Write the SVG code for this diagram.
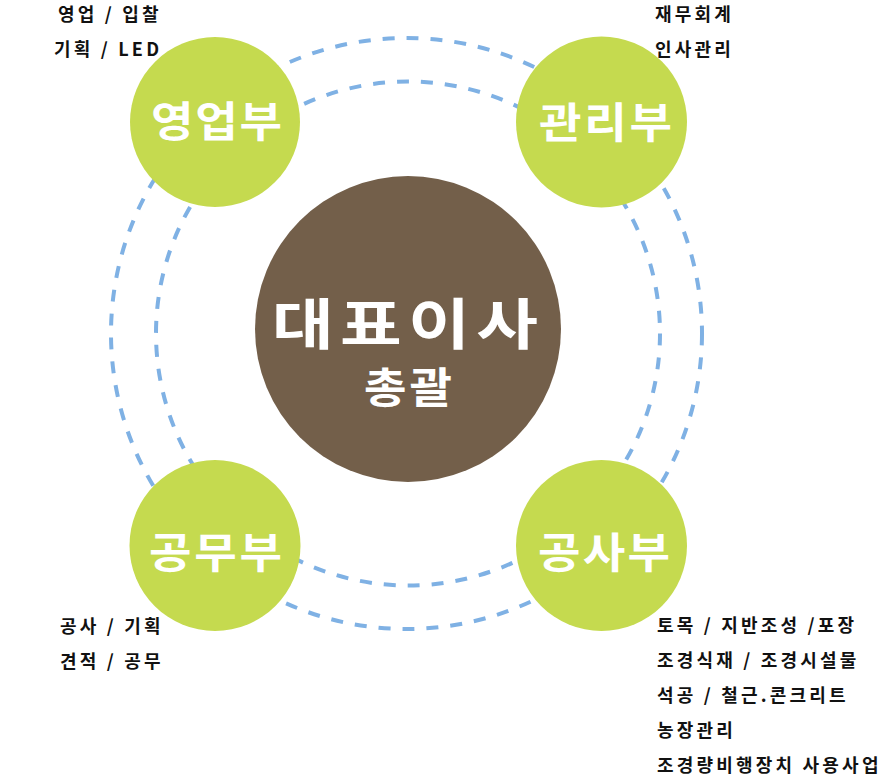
<svg xmlns="http://www.w3.org/2000/svg" width="887" height="782" viewBox="0 0 887 782">
  <style>
    .ring { fill: none; stroke: #7fb1e4; stroke-width: 4; stroke-dasharray: 12 12; }
    .dept { fill: #c5da4f; }
    .ceo { fill: #735f4a; }
    .big { fill: #ffffff; font-family: "Noto Sans CJK KR", "Noto Sans", sans-serif; font-weight: 700; }
    .note { fill: #111111; font-family: "Noto Sans CJK KR", "Noto Sans", sans-serif; font-weight: 700; font-size: 18px; letter-spacing: 3.2px; }
  </style>
  <rect width="887" height="782" fill="#ffffff"/>
  <g id="connectors">
    <circle class="ring" cx="406.5" cy="333.5" r="295.5"/>
    <circle class="ring" cx="408" cy="333.5" r="252"/>
  </g>
  <g id="ceo">
    <circle class="ceo" cx="408" cy="329" r="153"/>
    <text class="big" transform="translate(272,344) scale(1.22,1)" x="0" y="0" font-size="55" textLength="218" lengthAdjust="spacing">대표이사</text>
    <text class="big" transform="translate(364,403) scale(1.1,1)" x="0" y="0" font-size="42" textLength="80" lengthAdjust="spacing">총괄</text>
  </g>
  <g id="sales">
    <circle class="dept" cx="215" cy="122" r="85"/>
    <text class="big" transform="translate(151,137) scale(1.1,1)" x="0" y="0" font-size="42" textLength="119" lengthAdjust="spacing">영업부</text>
    <text class="note" x="58" y="21">영업 / 입찰</text>
    <text class="note" x="54" y="56">기획 / LED</text>
  </g>
  <g id="admin">
    <circle class="dept" cx="601.5" cy="122" r="85.5"/>
    <text class="big" transform="translate(539,138) scale(1.1,1)" x="0" y="0" font-size="42" textLength="121" lengthAdjust="spacing">관리부</text>
    <text class="note" x="655" y="21">재무회계</text>
    <text class="note" x="655" y="56">인사관리</text>
  </g>
  <g id="works">
    <circle class="dept" cx="215" cy="545.5" r="85.5"/>
    <text class="big" transform="translate(149,568) scale(1.1,1)" x="0" y="0" font-size="42" textLength="121" lengthAdjust="spacing">공무부</text>
    <text class="note" x="60" y="633">공사 / 기획</text>
    <text class="note" x="60" y="668">견적 / 공무</text>
  </g>
  <g id="construction">
    <circle class="dept" cx="601.5" cy="545.5" r="85.5"/>
    <text class="big" transform="translate(538,568) scale(1.1,1)" x="0" y="0" font-size="42" textLength="120" lengthAdjust="spacing">공사부</text>
    <text class="note" x="657" y="632">토목 / 지반조성 /포장</text>
    <text class="note" x="657" y="667">조경식재 / 조경시설물</text>
    <text class="note" x="657" y="702">석공 / 철근.콘크리트</text>
    <text class="note" x="657" y="737">농장관리</text>
    <text class="note" x="657" y="772">조경량비행장치 사용사업</text>
  </g>
</svg>
